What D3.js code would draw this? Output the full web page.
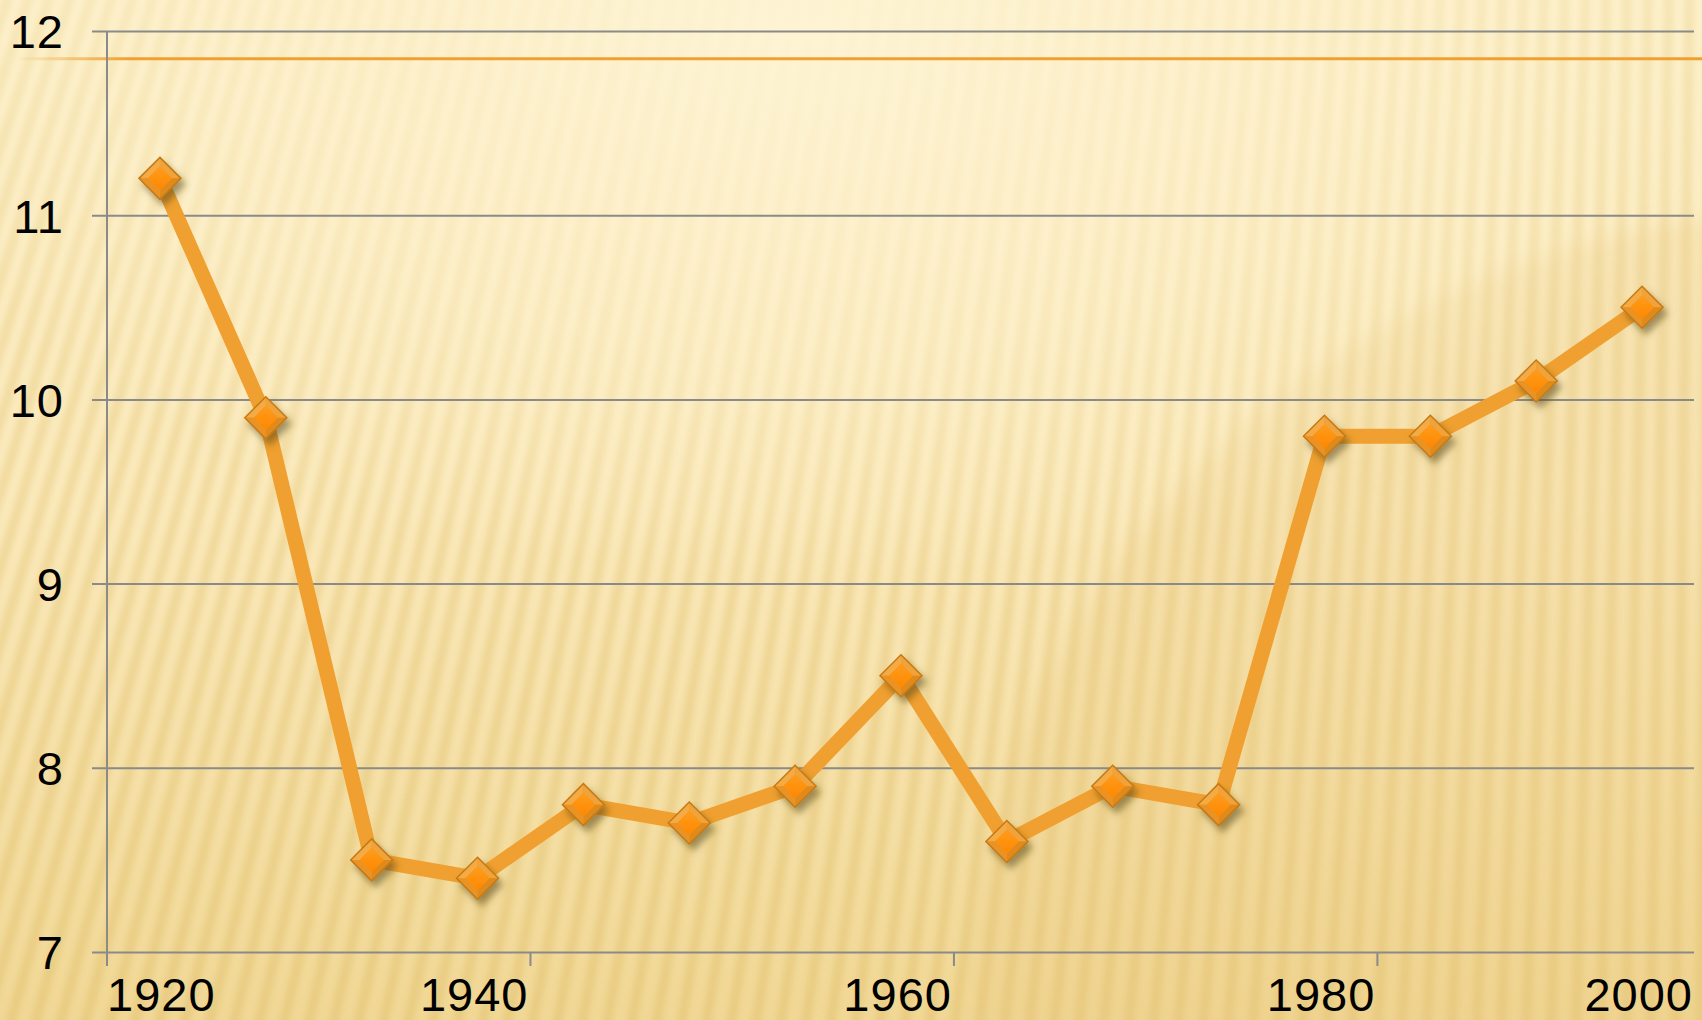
<!DOCTYPE html>
<html>
<head>
<meta charset="utf-8">
<script src="https://cdn.jsdelivr.net/npm/d3@7"></script>
<style>
  html, body { margin: 0; padding: 0; background: #fcefc6; }
  svg { display: block; }
</style>
</head>
<body>
<div id="chart"></div>
<script>
/* line chart with diamond markers on a cream striped background */

const categories = ["1920", "1925", "1930", "1935", "1940", "1945", "1950", "1955",
                    "1960", "1965", "1970", "1975", "1980", "1985", "1990"];
const values = [11.2, 9.9, 7.5, 7.4, 7.8, 7.7, 7.9, 8.5, 7.6, 7.9, 7.8, 9.8, 9.8, 10.1, 10.5];
const yTicks = [7, 8, 9, 10, 11, 12];
const xTickCats = ["1920", "1940", "1960", "1980"];
const xTickLabels = ["1920", "1940", "1960", "1980", "2000"];
const refLine = 11.85;

const width = 1702,
      height = 1020,
      margin = ({top: 31, right: 7, bottom: 68, left: 107});

let svg = d3.select("#chart")
    .append("svg")
    .attr("width", width)
    .attr("height", height)
    .attr("viewBox", [0, 0, width, height]);

let defs = svg.append("defs");

// background gradients
let bg = defs.append("linearGradient").attr("id", "bg")
    .attr("x1", 0).attr("y1", 0).attr("x2", 0).attr("y2", 1);
bg.append("stop").attr("offset", "0%").attr("stop-color", "#fdf1cb");
bg.append("stop").attr("offset", "50%").attr("stop-color", "#fbeabc");
bg.append("stop").attr("offset", "100%").attr("stop-color", "#f1d896");

let glow = defs.append("radialGradient").attr("id", "glow")
    .attr("cx", 0.47).attr("cy", 0.02).attr("r", 0.55);
glow.append("stop").attr("offset", "0%").attr("stop-color", "#fef4d4").attr("stop-opacity", 0.95);
glow.append("stop").attr("offset", "60%").attr("stop-color", "#fef2cf").attr("stop-opacity", 0.5);
glow.append("stop").attr("offset", "100%").attr("stop-color", "#fef2cf").attr("stop-opacity", 0);

let stripeFade = defs.append("linearGradient").attr("id", "stripeFade")
    .attr("x1", 0).attr("y1", 0).attr("x2", 0).attr("y2", 1);
stripeFade.append("stop").attr("offset", "0%").attr("stop-color", "#fff").attr("stop-opacity", 0.55);
stripeFade.append("stop").attr("offset", "100%").attr("stop-color", "#fff").attr("stop-opacity", 1);

defs.append("mask").attr("id", "stripeMask")
    .append("rect").attr("width", width).attr("height", height).attr("fill", "url(#stripeFade)");

defs.append("filter").attr("id", "soft")
    .append("feGaussianBlur").attr("stdDeviation", 3);

defs.append("filter").attr("id", "wide")
    .attr("x", -0.2).attr("y", -0.2).attr("width", 1.4).attr("height", 1.4)
    .append("feGaussianBlur").attr("stdDeviation", 10);

let shadow = defs.append("filter").attr("id", "shadow")
    .attr("x", -0.5).attr("y", -0.5).attr("width", 2).attr("height", 2);
shadow.append("feDropShadow")
    .attr("dx", 4).attr("dy", 6).attr("stdDeviation", 3.5)
    .attr("flood-color", "#5a4618").attr("flood-opacity", 0.55);

let inner = defs.append("linearGradient").attr("id", "inner")
    .attr("x1", 0).attr("y1", 0).attr("x2", 0).attr("y2", 1);
inner.append("stop").attr("offset", "0%").attr("stop-color", "#ff9c1c");
inner.append("stop").attr("offset", "100%").attr("stop-color", "#ff8800");

let refFade = defs.append("linearGradient").attr("id", "refFade")
    .attr("gradientUnits", "userSpaceOnUse")
    .attr("x1", 15).attr("y1", 0).attr("x2", 130).attr("y2", 0);
refFade.append("stop").attr("offset", "0%").attr("stop-color", "#f0a030").attr("stop-opacity", 0);
refFade.append("stop").attr("offset", "100%").attr("stop-color", "#f0a030").attr("stop-opacity", 1);

// background
svg.append("rect")
    .attr("width", width)
    .attr("height", height)
    .attr("fill", "url(#bg)");

// fan of soft stripes, converging on a far point up and to the right
const fx = 1760, fy = -5200;
const yBot = height + 40, yTop = -40;
const squeeze = (yTop - fy) / (yBot - fy);
let stripeBase = d3.range(-900, 1900, 25);
svg.append("g")
    .attr("mask", "url(#stripeMask)")
    .attr("filter", "url(#soft)")
    .selectAll("line")
    .data(stripeBase)
    .join("line")
    .attr("x1", d => d)
    .attr("y1", yBot)
    .attr("x2", d => fx + (d - fx) * squeeze)
    .attr("y2", yTop)
    .attr("stroke", "#e2c06c")
    .attr("stroke-width", 10)
    .attr("stroke-opacity", 0.5);

// darker round region lower right
svg.append("ellipse")
    .attr("cx", 1830).attr("cy", 1010)
    .attr("rx", 860).attr("ry", 800)
    .attr("fill", "#e6c679")
    .attr("fill-opacity", 0.22)
    .attr("filter", "url(#wide)");

// light glow at top
svg.append("rect")
    .attr("width", width)
    .attr("height", height)
    .attr("fill", "url(#glow)");

let x = d3.scaleBand()
    .domain(categories)
    .range([margin.left, width - margin.right]);

let y = d3.scaleLinear()
    .domain([7, 12])
    .range([height - margin.bottom, margin.top]);

// decorative orange rule near the top
svg.append("line")
    .attr("x1", 15).attr("x2", width)
    .attr("y1", y(refLine)).attr("y2", y(refLine))
    .attr("stroke", "url(#refFade)")
    .attr("stroke-width", 3);

// horizontal grid + y axis
let yAxis = svg.append("g")
    .attr("transform", `translate(${margin.left},0)`)
    .call(d3.axisLeft(y)
        .tickValues(yTicks)
        .tickSize(-(width - margin.left - margin.right - 1))
        .tickPadding(43)
        .tickFormat(d3.format("d")));
yAxis.select(".domain").remove();
yAxis.selectAll(".tick line")
    .attr("x1", -15)
    .attr("stroke", "#8a8a8a")
    .attr("stroke-width", 2);
yAxis.selectAll(".tick text")
    .attr("font-family", "'Liberation Sans', Arial, sans-serif")
    .attr("font-size", 47)
    .attr("letter-spacing", 1)
    .attr("dy", "0.36em")
    .attr("fill", "#000");

svg.append("line")
    .attr("x1", margin.left).attr("x2", margin.left)
    .attr("y1", y(12)).attr("y2", y(7))
    .attr("stroke", "#8a8a8a")
    .attr("stroke-width", 2);

// x axis
let xPos = xTickCats.map(c => x(c)).concat([x.range()[1]]);
let xg = svg.append("g");
xg.selectAll("line")
    .data(xTickCats)
    .join("line")
    .attr("x1", d => x(d)).attr("x2", d => x(d))
    .attr("y1", y(7)).attr("y2", y(7) + 14)
    .attr("stroke", "#8a8a8a")
    .attr("stroke-width", 2);
xg.selectAll("text")
    .data(xTickLabels)
    .join("text")
    .text(d => d)
    .attr("x", (d, i) => xPos[i] - (i === 0 ? 0 : 2))
    .attr("y", 1011)
    .attr("text-anchor", (d, i) => i === 0 ? "start" : "end")
    .attr("font-family", "'Liberation Sans', Arial, sans-serif")
    .attr("font-size", 47)
    .attr("letter-spacing", 1)
    .attr("fill", "#000");

// series line
let line = d3.line()
    .x((d, i) => x(categories[i]) + x.bandwidth() / 2)
    .y(d => y(d));

svg.append("path")
    .datum(values)
    .attr("d", line)
    .attr("fill", "none")
    .attr("stroke", "#f0a030")
    .attr("stroke-width", 15)
    .attr("stroke-linejoin", "miter");

// diamond markers with a bevel
const h = 21, k = 12;
let marker = svg.selectAll(".marker")
    .data(values)
    .join("g")
    .attr("class", "marker")
    .attr("transform", (d, i) => `translate(${x(categories[i]) + x.bandwidth() / 2},${y(d)})`);

let diamond = marker.append("g").attr("filter", "url(#shadow)");
diamond.append("path")
    .attr("d", `M0,${-h}L${h},0L0,${h}L${-h},0Z`)
    .attr("fill", "#eb9424");
diamond.append("path")   // upper-left facet
    .attr("d", `M${-h},0L0,${-h}L0,${-k}L${-k},0Z`)
    .attr("fill", "#f4ab45");
diamond.append("path")   // upper-right facet
    .attr("d", `M0,${-h}L${h},0L${k},0L0,${-k}Z`)
    .attr("fill", "#f0a23a");
diamond.append("path")   // lower-right facet
    .attr("d", `M${h},0L0,${h}L0,${k}L${k},0Z`)
    .attr("fill", "#e08a1c");
diamond.append("path")   // lower-left facet
    .attr("d", `M0,${h}L${-h},0L${-k},0L0,${k}Z`)
    .attr("fill", "#e99326");
diamond.append("path")
    .attr("d", `M0,${-k}L${k},0L0,${k}L${-k},0Z`)
    .attr("fill", "url(#inner)");
diamond.append("path")
    .attr("d", `M0,${-h}L${h},0L0,${h}L${-h},0Z`)
    .attr("fill", "none")
    .attr("stroke", "#c47a16")
    .attr("stroke-width", 1.5);
</script>
</body>
</html>
